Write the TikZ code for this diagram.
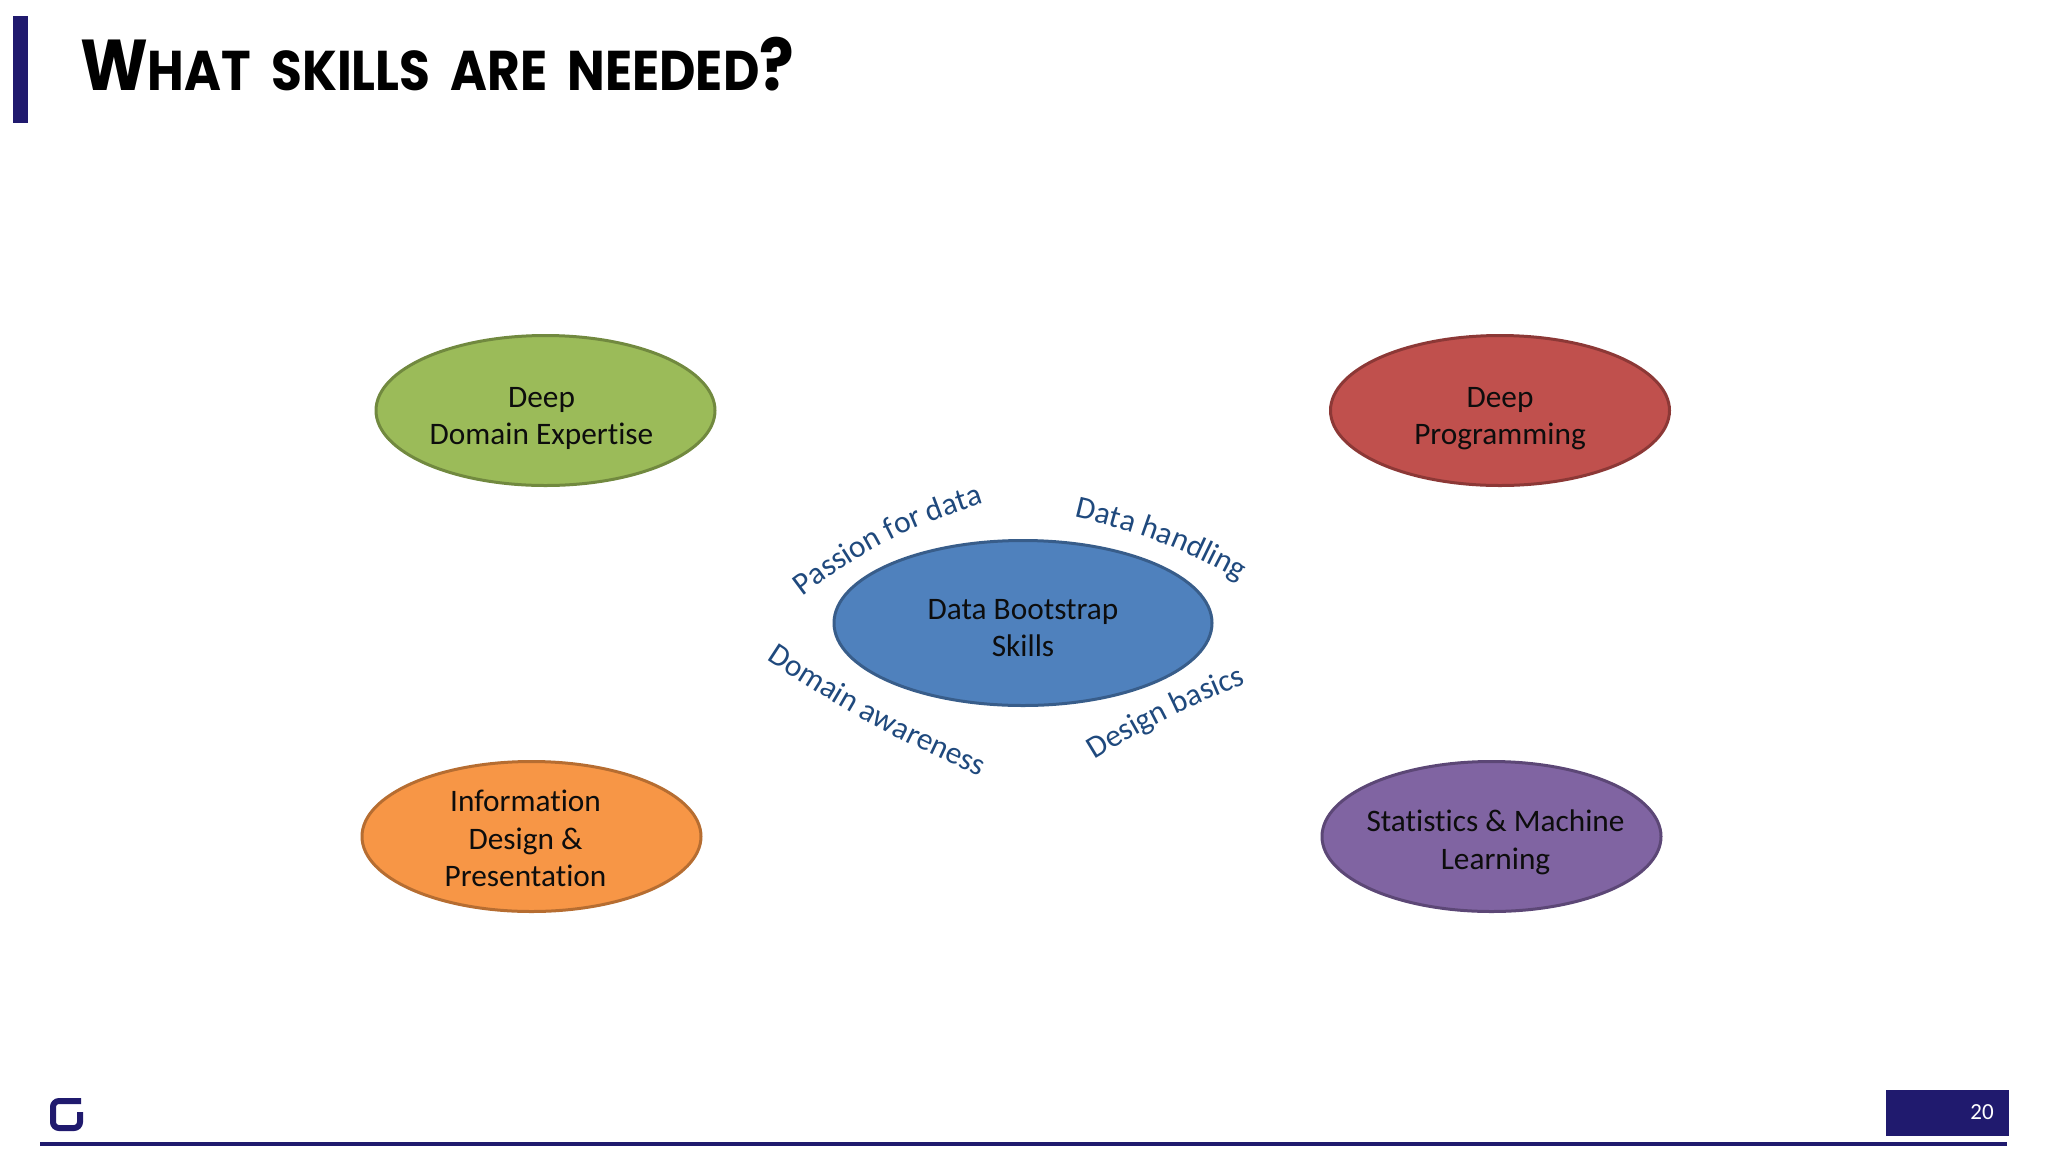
\documentclass[tikz,border=0pt]{standalone}
\usepackage{fontspec}
\setmainfont{Carlito}[Ligatures=NoCommon]
\newfontfamily\titlefont{Poppins}[BoldFont={* Bold}, WordSpace=1.9]
\usetikzlibrary{shapes.geometric, decorations.text}

\definecolor{navy}{HTML}{201A6E}
\definecolor{curvetext}{HTML}{1F497D}
\newcommand{\curvefont}{\color{curvetext}\fontsize{31.5}{31.5}\selectfont}

\begin{document}
\begin{tikzpicture}[x=1pt, y=-1pt]

\tikzset{skill/.style = {shape=ellipse, draw, line width=3pt, inner sep=0pt, minimum width=339pt, minimum height=150pt}}
\tikzset{skilltext/.style = {align=center, text=black!95, font=\fontsize{31.3}{37.5}\selectfont}}
\tikzset{arctext/.style = {decorate, decoration={text along path, text align=center, text={|\curvefont|#1}}}}

\useasboundingbox (0,0) rectangle (2048,1152);

% title
\fill[navy] (13,16) rectangle (28,123);
\node[anchor=base west, inner sep=0pt, xscale=0.895, transform shape] (title) at (80,90)
  {\titlefont\bfseries\fontsize{72}{72}\selectfont W\fontsize{56}{56}\selectfont HAT SKILLS ARE NEEDED\fontsize{72}{72}\selectfont ?};

% ellipses
\node[skill, fill={rgb,255:red,155;green,187;blue,89}, draw={rgb,255:red,113;green,137;blue,63}] (domain) at (545.5,410.5) {};
\node[skill, fill={rgb,255:red,192;green,80;blue,77}, draw={rgb,255:red,140;green,56;blue,54}] (programming) at (1500,410.5) {};
\node[skill, fill={rgb,255:red,247;green,150;blue,70}, draw={rgb,255:red,182;green,109;blue,49}] (design) at (531.5,836.5) {};
\node[skill, fill={rgb,255:red,128;green,100;blue,162}, draw={rgb,255:red,92;green,71;blue,118}] (statistics) at (1491.5,836.5) {};
\node[skill, minimum width=378pt, minimum height=165pt, fill={rgb,255:red,79;green,129;blue,189}, draw={rgb,255:red,56;green,93;blue,138}] (bootstrap) at (1023,623) {};

% texts
\node[skilltext] (domaintext) at ([xshift=-4pt,yshift=-8pt]domain) {Deep\\Domain Expertise};
\node[skilltext] (programmingtext) at ([yshift=-8pt]programming) {Deep\\Programming};
\node[skilltext] (designtext) at ([xshift=-6pt,yshift=-2pt]design) {Information\\Design \&\\Presentation};
\node[skilltext] (statisticstext) at ([xshift=4pt,yshift=-6pt]statistics) {Statistics \& Machine\\Learning};
\node[skilltext] (bootstraptext) at ([yshift=-5pt]bootstrap) {Data Bootstrap\\Skills};

% curved texts
\coordinate (passionA) at (802,597);
\coordinate (passionB) at (985,503);
\coordinate (handlingA) at (1071,516);
\coordinate (handlingB) at (1243,582);
\coordinate (awareA) at (759,655);
\coordinate (awareB) at (988,780);
\coordinate (basicsA) at (1091,762);
\coordinate (basicsB) at (1250,682);
\path[arctext={Passion for data}] (passionA) to[bend left=10] (passionB);
\path[arctext={Data handling}] (handlingA) to[bend left=8] (handlingB);
\path[arctext={Domain awareness}] (awareA) to[bend right=5] (awareB);
\path[arctext={Design basics}] (basicsA) to[bend left=5] (basicsB);

% footer
\draw[navy, line width=4pt] (40,1144) -- (2007,1144);
\node[fill=navy, minimum width=123pt, minimum height=46pt, inner sep=0pt] (pagebox) at (1947.5,1113) {};
\node[text=white, font=\fontsize{23}{23}\selectfont, inner sep=0pt] (pagenum) at (1982,1112) {20};
\draw[navy, line width=6pt, rounded corners=6pt] (81,1101) -- (53,1101) -- (53,1128) -- (80,1128) -- (80,1112);

\end{tikzpicture}
\end{document}
